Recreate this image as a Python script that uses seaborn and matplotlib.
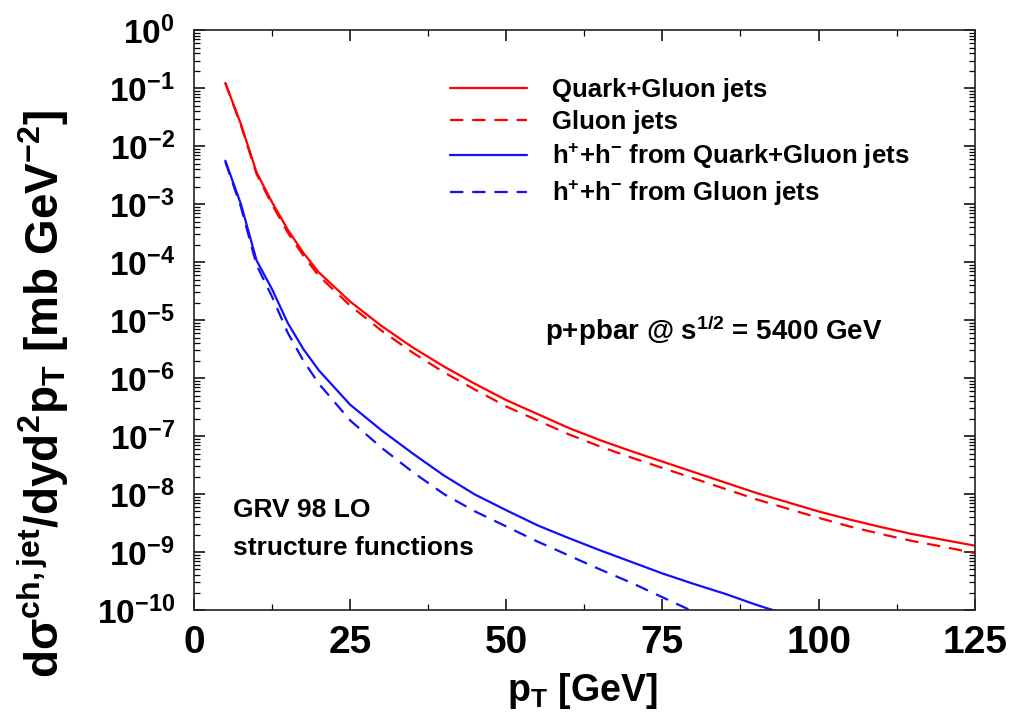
import numpy as np
import pandas as pd
import matplotlib
matplotlib.use("Agg")
import matplotlib.pyplot as plt
import seaborn as sns
from matplotlib.ticker import LogLocator, MultipleLocator, FuncFormatter, NullFormatter

# ---------------- data (values given as -log10) ----------------
pt_red = [5, 7.5, 10, 12.5, 15, 17.5, 20, 25, 30, 35, 40, 45, 50, 55, 60, 65, 70,
          75, 80, 85, 90, 95, 100, 105, 110, 115, 120, 125]
qg_jets_mlog = [0.91, 1.62, 2.45, 2.97, 3.44, 3.84, 4.18, 4.68, 5.10, 5.47, 5.80, 6.10,
                6.38, 6.62, 6.86, 7.07, 7.26, 7.44, 7.62, 7.80, 7.98, 8.14, 8.30, 8.44,
                8.57, 8.69, 8.79, 8.89]
g_jets_mlog = [0.91, 1.64, 2.48, 3.01, 3.49, 3.89, 4.24, 4.75, 5.18, 5.56, 5.90, 6.20,
               6.49, 6.73, 6.97, 7.18, 7.37, 7.55, 7.73, 7.91, 8.09, 8.25, 8.41, 8.56,
               8.69, 8.81, 8.91, 9.02]

pt_h_qg = [5, 7.5, 10, 12.5, 15, 17.5, 20, 25, 30, 35, 40, 45, 50, 55, 60, 65, 70,
           75, 80, 85, 90, 95]
h_qg_mlog = [2.25, 3.00, 3.97, 4.47, 5.05, 5.50, 5.87, 6.46, 6.90, 7.30, 7.68, 8.01,
             8.28, 8.54, 8.76, 8.97, 9.17, 9.37, 9.55, 9.72, 9.91, 10.08]

pt_h_g = [5, 7.5, 10, 12.5, 15, 17.5, 20, 25, 30, 35, 40, 45, 50, 55, 60, 65, 70,
          75, 80, 85]
h_g_mlog = [2.27, 3.05, 4.05, 4.60, 5.22, 5.70, 6.10, 6.73, 7.20, 7.62, 8.00, 8.30,
            8.56, 8.82, 9.06, 9.30, 9.53, 9.78, 10.03, 10.28]

labels = ["Quark+Gluon jets", "Gluon jets",
          r"h$^{+}$+h$^{-}$ from Quark+Gluon jets", r"h$^{+}$+h$^{-}$ from Gluon jets"]
x_ticks = [0, 25, 50, 75, 100, 125]

# ---------------- style ----------------
sns.set_style("ticks")
plt.rcParams["font.family"] = ["Liberation Sans", "DejaVu Sans"]
plt.rcParams["font.weight"] = "bold"
plt.rcParams["axes.labelweight"] = "bold"
plt.rcParams["text.color"] = "black"
plt.rcParams["axes.labelcolor"] = "black"
plt.rcParams["xtick.color"] = "black"
plt.rcParams["ytick.color"] = "black"
plt.rcParams["mathtext.fontset"] = "custom"
plt.rcParams["mathtext.rm"] = "Liberation Sans:bold"
plt.rcParams["mathtext.it"] = "Liberation Sans:bold"
plt.rcParams["mathtext.bf"] = "Liberation Sans:bold"
plt.rcParams["mathtext.default"] = "rm"

fig = plt.figure(figsize=(10.11, 7.21), dpi=100)
ax = fig.add_axes([0.192, 0.154, 0.772, 0.804])
ax.set_yscale("log")

series = [
    (pt_red, qg_jets_mlog, "#ff0000", "-", labels[0]),
    (pt_red, g_jets_mlog, "#ff0000", (0, (6, 4)), labels[1]),
    (pt_h_qg, h_qg_mlog, "#1010ff", "-", labels[2]),
    (pt_h_g, h_g_mlog, "#1010ff", (0, (6, 4)), labels[3]),
]
for xs, ml, col, ls, lab in series:
    df = pd.DataFrame({"pT": xs, "val": 10.0 ** (-np.asarray(ml))})
    sns.lineplot(data=df, x="pT", y="val", color=col, linestyle=ls, lw=1.6,
                 label=lab, ax=ax, sort=True, estimator=None)

ax.set_xlim(0, 125)
ax.set_ylim(1e-10, 1e0)

ax.xaxis.set_major_locator(plt.FixedLocator(x_ticks))
ax.xaxis.set_minor_locator(MultipleLocator(12.5))
ax.yaxis.set_major_locator(LogLocator(base=10, numticks=20))
ax.yaxis.set_minor_locator(LogLocator(base=10, subs=np.arange(2, 10), numticks=200))
ax.yaxis.set_minor_formatter(NullFormatter())
ax.yaxis.set_major_formatter(FuncFormatter(lambda v, p: r"$10^{%d}$" % round(np.log10(v))))

ax.tick_params(which="both", direction="in", top=True, right=True, color="black")
ax.tick_params(which="major", length=8, width=1.1)
ax.tick_params(which="minor", length=4, width=0.9)
ax.tick_params(axis="y", which="major", labelsize=24, pad=14)
ax.tick_params(axis="x", which="major", labelsize=28, pad=11)
for sp in ax.spines.values():
    sp.set_linewidth(1.2)
    sp.set_color("#222222")

ax.set_xlabel(r"p$_{\mathregular{T}}$ [GeV]", fontsize=27, fontweight="bold")
ax.xaxis.set_label_coords(0.497, -0.106)
ax.xaxis.label.set_va("top")
ax.set_ylabel(r"d$\sigma^{ch,jet}$/dyd$^{2}$p$_{T}$ [mb GeV$^{-2}$]", fontsize=33,
              fontweight="bold")
ax.yaxis.set_label_coords(-0.158, 0.372)

leg = ax.legend(loc="upper left", bbox_to_anchor=(0.328, 0.918), frameon=False,
                fontsize=18.5, handlelength=3.0, handletextpad=0.95, labelspacing=0.3,
                borderaxespad=0, borderpad=0)

ax.text(0.449, 0.481, r"p+pbar @ s$^{1/2}$ = 5400 GeV", transform=ax.transAxes,
        fontsize=20, va="center", ha="left")
ax.text(0.050, 0.172, "GRV 98 LO", transform=ax.transAxes, fontsize=19,
        va="center", ha="left")
ax.text(0.050, 0.107, "structure functions", transform=ax.transAxes, fontsize=19,
        va="center", ha="left")

fig.savefig("out.png", dpi=100)
